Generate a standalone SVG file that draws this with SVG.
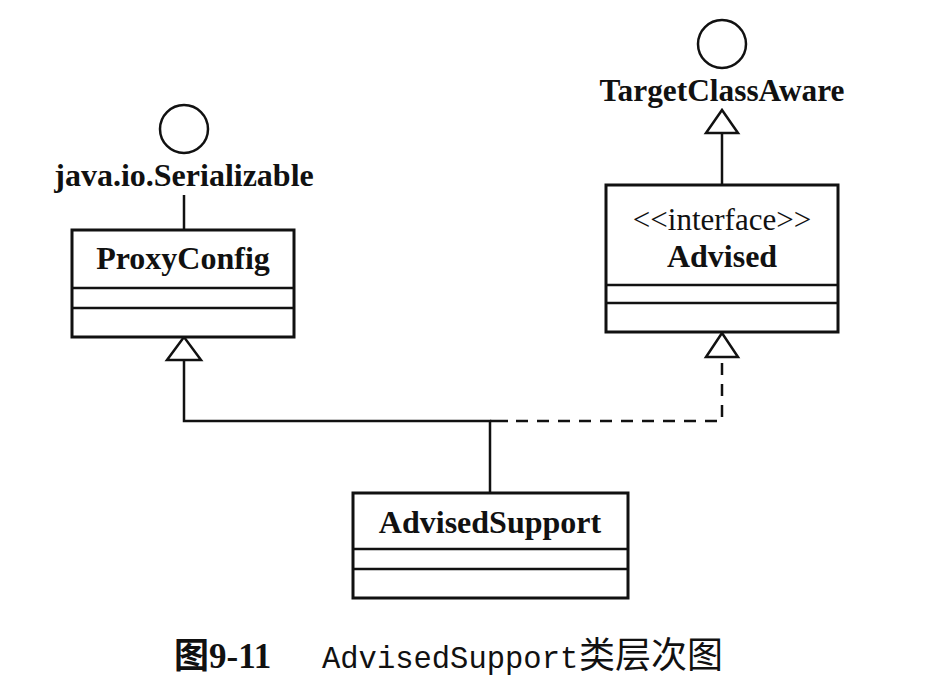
<svg xmlns="http://www.w3.org/2000/svg" width="934" height="694" viewBox="0 0 934 694">
<style>
.box{fill:#fff;stroke:#111;stroke-width:3}
.div{stroke:#111;stroke-width:2.5}
.ln{stroke:#111;stroke-width:2.5;fill:none}
.dash{stroke:#111;stroke-width:2.5;fill:none;stroke-dasharray:12 9}
.tri{fill:#fff;stroke:#111;stroke-width:2.5}
.circ{fill:none;stroke:#111;stroke-width:2.5}
.b{font-family:"Liberation Serif","Times New Roman",serif;font-weight:bold;font-size:32px;fill:#111;text-anchor:middle}
.r{font-family:"Liberation Serif","Times New Roman",serif;font-size:31px;fill:#111;text-anchor:middle}
</style>
<rect width="934" height="694" fill="#fff"/>
<g id="connectors">
  <line class="ln" x1="184" y1="195" x2="184" y2="230"/>
  <line class="ln" x1="722" y1="133" x2="722" y2="185"/>
  <polygon class="tri" points="722,110 706,133 738,133"/>
  <path class="ln" d="M490,493 V421 H184 V360"/>
  <polygon class="tri" points="184,337 167,360 201,360"/>
  <path class="ln" d="M490,421 H508"/>
  <path class="dash" d="M516,421 H722 V358"/>
  <polygon class="tri" points="722,333 706,357 738,357"/>
</g>
<g id="serializable">
  <circle class="circ" cx="184" cy="129" r="24"/>
  <text class="b" x="184" y="186">java.io.Serializable</text>
</g>
<g id="targetclassaware">
  <circle class="circ" cx="722" cy="44" r="24"/>
  <text class="b" x="722" y="101" textLength="245" lengthAdjust="spacingAndGlyphs">TargetClassAware</text>
</g>
<g id="proxyconfig">
  <rect class="box" x="72" y="230" width="222" height="107"/>
  <line class="div" x1="72" y1="288" x2="294" y2="288"/>
  <line class="div" x1="72" y1="308" x2="294" y2="308"/>
  <text class="b" x="183" y="269">ProxyConfig</text>
</g>
<g id="advised">
  <rect class="box" x="606" y="185" width="232" height="147"/>
  <line class="div" x1="606" y1="285" x2="838" y2="285"/>
  <line class="div" x1="606" y1="303" x2="838" y2="303"/>
  <text class="r" x="722" y="230">&lt;&lt;interface&gt;&gt;</text>
  <text class="b" x="722" y="267" font-size="30">Advised</text>
</g>
<g id="advisedsupport">
  <rect class="box" x="353" y="493" width="275" height="105"/>
  <line class="div" x1="353" y1="549" x2="628" y2="549"/>
  <line class="div" x1="353" y1="569" x2="628" y2="569"/>
  <text class="b" x="490" y="533">AdvisedSupport</text>
</g>
<g id="caption">
  <text x="174" y="668" font-family="'Liberation Serif','Noto Sans CJK SC',serif" font-weight="bold" font-size="35" fill="#111">图9-11</text>
  <text x="322" y="668" font-family="'Liberation Mono','Courier New',monospace" font-size="30.5" fill="#111">AdvisedSupport</text>
  <text x="579" y="668" font-family="'Noto Sans CJK SC',sans-serif" font-size="36" fill="#111">类层次图</text>
</g>
</svg>
